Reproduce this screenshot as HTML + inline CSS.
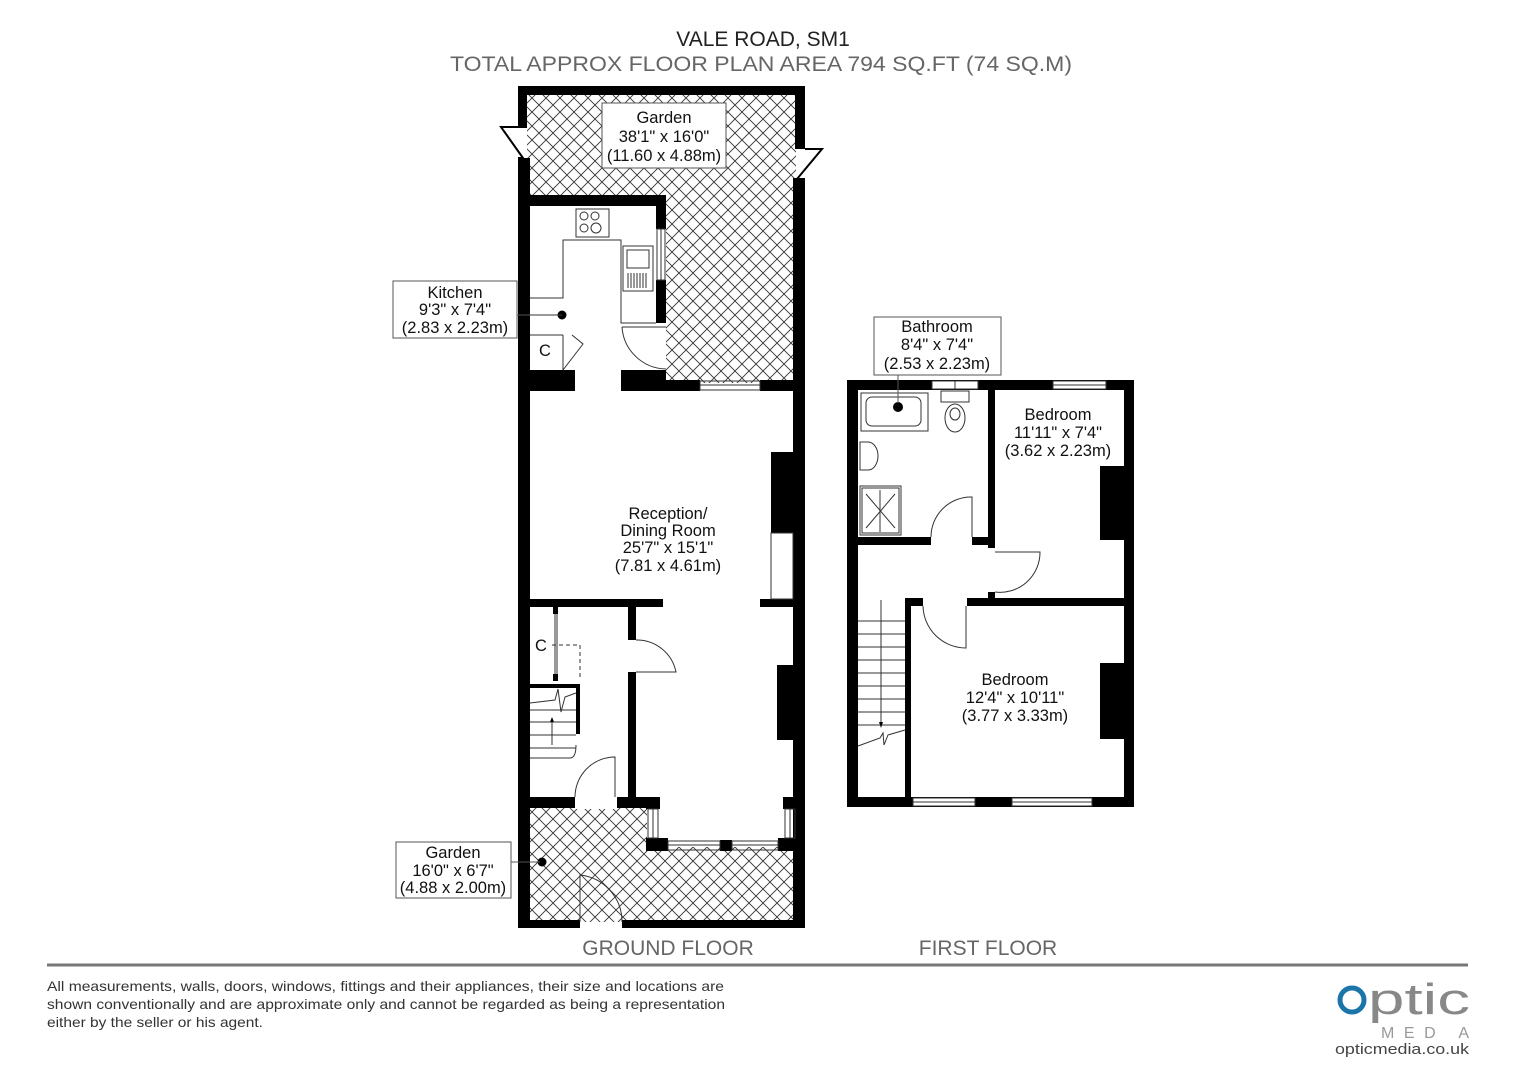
<!DOCTYPE html>
<html><head><meta charset="utf-8"><style>
html,body{margin:0;padding:0;background:#fff;width:1528px;height:1080px;overflow:hidden}
svg{display:block}
text{font-family:"Liberation Sans",Arial,sans-serif}
</style></head><body>
<svg width="1528" height="1080" viewBox="0 0 1528 1080" xmlns="http://www.w3.org/2000/svg">
<defs>
<pattern id="h" width="14" height="14" patternUnits="userSpaceOnUse">
<path d="M0 0L14 14M14 0L0 14" stroke="#333" stroke-width="0.9"/>
</pattern>
</defs>
<rect width="1528" height="1080" fill="#fff"/>
<text x="763" y="46" font-size="21" text-anchor="middle" fill="#222">VALE ROAD, SM1</text>
<text x="761" y="71" font-size="21.5" text-anchor="middle" fill="#666" textLength="622" lengthAdjust="spacingAndGlyphs">TOTAL APPROX FLOOR PLAN AREA 794 SQ.FT (74 SQ.M)</text>

<polygon points="527,95 796,95 796,383 666,383 666,206 527,206" fill="url(#h)"/>
<rect x="527" y="808" width="268" height="114" fill="url(#h)"/>
<rect x="647" y="797" width="150" height="50" fill="#fff"/>
<rect x="575" y="797" width="42" height="12" fill="#fff"/>

<g fill="#000">
<rect x="518" y="86" width="287" height="9"/>
<rect x="518" y="86" width="9" height="42"/>
<rect x="518" y="158" width="12" height="770"/>
<rect x="795" y="86" width="10" height="63"/>
<rect x="793" y="178" width="12" height="750"/>
<rect x="518" y="195" width="148" height="11"/>
<rect x="656" y="195" width="10" height="34"/>
<rect x="656" y="280" width="10" height="43"/>
<rect x="518" y="370" width="57" height="21"/>
<rect x="621" y="370" width="45" height="21"/>
<rect x="666" y="380" width="34" height="11"/>
<rect x="760" y="380" width="45" height="11"/>
<rect x="771" y="452" width="24" height="81"/>
<rect x="530" y="599" width="133" height="8"/>
<rect x="760" y="599" width="35" height="8"/>
<rect x="628" y="607" width="8" height="33"/>
<rect x="628" y="672" width="8" height="128"/>
<rect x="777" y="665" width="18" height="75"/>
<rect x="553" y="607" width="5" height="7"/>
<rect x="553" y="674" width="5" height="7"/>
<rect x="530" y="684" width="50" height="4"/>
<rect x="576" y="684" width="4" height="50"/>
<rect x="518" y="797" width="57" height="11"/>
<rect x="617" y="797" width="42" height="11"/>
<rect x="646" y="797" width="14" height="12"/>
<rect x="646" y="838" width="22" height="13"/>
<rect x="720" y="840" width="12" height="11"/>
<rect x="778" y="838" width="19" height="13"/>
<rect x="783" y="797" width="14" height="12"/>
<rect x="518" y="920" width="62" height="8"/>
<rect x="622" y="920" width="183" height="8"/>
<circle cx="562" cy="315" r="4.5"/>
<circle cx="542" cy="862" r="4.5"/>
</g>
<path d="M518,127 L501,127 L523,158 L518,158" fill="#fff" stroke="#000" stroke-width="2"/>
<path d="M805,149 L822,149 L797,179 L805,179" fill="#fff" stroke="#000" stroke-width="2"/>
<g fill="none" stroke="#333" stroke-width="1">
<rect x="657" y="229" width="8" height="51"/><line x1="661" y1="229" x2="661" y2="280"/>
<rect x="700" y="381" width="60" height="9"/><line x1="700" y1="385" x2="760" y2="385"/>
<rect x="771" y="533" width="22" height="66"/>
<rect x="648" y="809" width="10" height="29"/><line x1="653" y1="809" x2="653" y2="838"/>
<rect x="785" y="809" width="10" height="29"/><line x1="790" y1="809" x2="790" y2="838"/>
<rect x="668" y="841" width="52" height="9"/><line x1="668" y1="845" x2="720" y2="845"/>
<rect x="732" y="841" width="46" height="9"/><line x1="732" y1="845" x2="778" y2="845"/>
<path d="M530,298 H563 V240 H621 V323 H656"/>
<line x1="530" y1="315" x2="562" y2="315"/>
<rect x="576" y="209" width="33" height="28"/>
<circle cx="584" cy="216" r="4"/><circle cx="595" cy="216" r="4"/><circle cx="584" cy="228" r="4"/><circle cx="596" cy="228" r="5"/>
<rect x="623" y="246" width="30" height="45"/><rect x="627" y="250" width="22" height="18"/>
<path d="M628,273 V288 M631,273 V288 M634,273 V288 M637,273 V288 M640,273 V288 M643,273 V288 M646,273 V288"/>
<line x1="530" y1="335" x2="563" y2="335"/><line x1="563" y1="335" x2="563" y2="370"/>
<path d="M563,370 L583,344 L572,335"/>
<path d="M666,327 H622 M622,327 A45,45 0 0 0 666,369"/>
<path d="M636,640 A40,40 0 0 1 676,672 L636,672"/>
<line x1="555" y1="614" x2="555" y2="674"/><line x1="557" y1="614" x2="557" y2="674"/>
<path d="M552,645 H580 V680" stroke-dasharray="4,3"/>
<path d="M530,703 L555,700 L558,689 L561,712 L565,697 L576,693"/>
<path d="M530,710 H576 M530,722 H576 M530,735 H576 M530,748 H576 M530,758 H570 Q576,758 576,745"/>
<line x1="552" y1="745" x2="552" y2="720"/>
<path d="M575,797 A40,40 0 0 1 615,757 V797"/>
<path d="M580,922 V875 A47,47 0 0 1 622,922"/>
</g>
<path d="M550,722 l2,-5 l2,5z" fill="#000"/>

<g fill="#000">
<rect x="847" y="380" width="287" height="10"/>
<rect x="847" y="380" width="11" height="427"/>
<rect x="1124" y="380" width="10" height="427"/>
<rect x="847" y="797" width="287" height="10"/>
<rect x="988" y="390" width="7" height="158"/>
<rect x="988" y="592" width="7" height="14"/>
<rect x="858" y="537" width="73" height="8"/>
<rect x="972" y="537" width="23" height="8"/>
<rect x="905" y="598" width="18" height="8"/>
<rect x="967" y="598" width="157" height="8"/>
<rect x="905" y="598" width="6" height="199"/>
<rect x="1100" y="466" width="24" height="74"/>
<rect x="1100" y="663" width="24" height="76"/>
<circle cx="898" cy="407" r="5"/>
</g>
<g fill="#fff" stroke="#333" stroke-width="1">
<rect x="932" y="381" width="46" height="8"/>
<rect x="1053" y="381" width="53" height="8"/>
<rect x="913" y="798" width="62" height="8"/>
<rect x="1012" y="798" width="80" height="8"/>
</g>
<g fill="none" stroke="#333" stroke-width="1">
<line x1="955" y1="381" x2="955" y2="389"/>
<line x1="913" y1="802" x2="975" y2="802"/><line x1="1012" y1="802" x2="1092" y2="802"/>
<line x1="1053" y1="385" x2="1106" y2="385"/>
<rect x="861" y="393" width="67" height="38"/>
<rect x="866" y="397" width="55" height="29" rx="6"/>
<rect x="941" y="391" width="28" height="11"/>
<ellipse cx="955" cy="418" rx="10" ry="14"/><ellipse cx="955" cy="414" rx="5" ry="6"/>
<path d="M860,442 h8 a10,14 0 0 1 0,28 h-8z"/>
<rect x="860" y="486" width="41" height="49"/><rect x="862" y="488" width="37" height="45"/>
<path d="M866,494 L895,528 M895,494 L866,528 M880,490 V532"/>
<path d="M972,537 V497 A40,40 0 0 0 931,537"/>
<path d="M995,552 H1040 A40,40 0 0 1 995,592"/>
<path d="M923,606 A43,43 0 0 0 966,648 V606"/>
<path d="M858,621 H905 M858,634 H905 M858,647 H905 M858,660 H905 M858,673 H905 M858,686 H905 M858,699 H905 M858,712 H905 M858,725 H905"/>
<line x1="881" y1="600" x2="881" y2="722"/>
<path d="M858,746 L880,738 L883,733 L884,745 L888,735 L905,730"/>
</g>
<path d="M879,722 l2,6 l2,-6z" fill="#000"/>

<g fill="#fff" stroke="#555" stroke-width="1">
<rect x="602" y="103" width="124" height="65"/>
<rect x="393" y="281" width="124" height="57"/>
<rect x="874" y="317" width="127" height="58"/>
<rect x="396" y="842" width="115" height="56"/>
</g>
<g stroke="#555" stroke-width="1">
<line x1="517" y1="315" x2="530" y2="315"/>
<line x1="511" y1="862" x2="540" y2="862"/>
<line x1="898" y1="375" x2="898" y2="403"/>
</g>
<g font-size="16.5" fill="#111" text-anchor="middle">
<text x="664" y="123">Garden</text><text x="664" y="142">38'1" x 16'0"</text><text x="664" y="161">(11.60 x 4.88m)</text>
<text x="455" y="298">Kitchen</text><text x="455" y="315">9'3" x 7'4"</text><text x="455" y="333">(2.83 x 2.23m)</text>
<text x="937" y="332">Bathroom</text><text x="937" y="350">8'4" x 7'4"</text><text x="937" y="369">(2.53 x 2.23m)</text>
<text x="453" y="858">Garden</text><text x="453" y="876">16'0" x 6'7"</text><text x="453" y="893">(4.88 x 2.00m)</text>
<text x="668" y="519">Reception/</text><text x="668" y="536">Dining Room</text><text x="668" y="553">25'7" x 15'1"</text><text x="668" y="571">(7.81 x 4.61m)</text>
<text x="1058" y="420">Bedroom</text><text x="1058" y="438">11'11" x 7'4"</text><text x="1058" y="456">(3.62 x 2.23m)</text>
<text x="1015" y="685">Bedroom</text><text x="1015" y="703">12'4" x 10'11"</text><text x="1015" y="721">(3.77 x 3.33m)</text>
<text x="545" y="356">C</text><text x="541" y="651">C</text>
</g>
<text x="668" y="955" font-size="21" fill="#666" text-anchor="middle">GROUND FLOOR</text>
<text x="988" y="955" font-size="21" fill="#666" text-anchor="middle">FIRST FLOOR</text>
<line x1="47" y1="965" x2="1468" y2="965" stroke="#777" stroke-width="3"/>
<g font-size="14" fill="#333">
<text x="47" y="991" textLength="677" lengthAdjust="spacingAndGlyphs">All measurements, walls, doors, windows, fittings and their appliances, their size and locations are</text>
<text x="47" y="1009" textLength="678" lengthAdjust="spacingAndGlyphs">shown conventionally and are approximate only and cannot be regarded as being a representation</text>
<text x="47" y="1027" textLength="216" lengthAdjust="spacingAndGlyphs">either by the seller or his agent.</text>
</g>
<circle cx="1352" cy="1000" r="12" fill="none" stroke="#1b75a8" stroke-width="5"/>
<text x="1368" y="1014" font-size="44" fill="#888" textLength="102" lengthAdjust="spacingAndGlyphs">ptic</text>
<text x="1381" y="1038" font-size="16" fill="#999" textLength="88" lengthAdjust="spacing">MED A</text>
<text x="1335" y="1054" font-size="15" fill="#444" textLength="134" lengthAdjust="spacingAndGlyphs">opticmedia.co.uk</text>
</svg>
</body></html>
